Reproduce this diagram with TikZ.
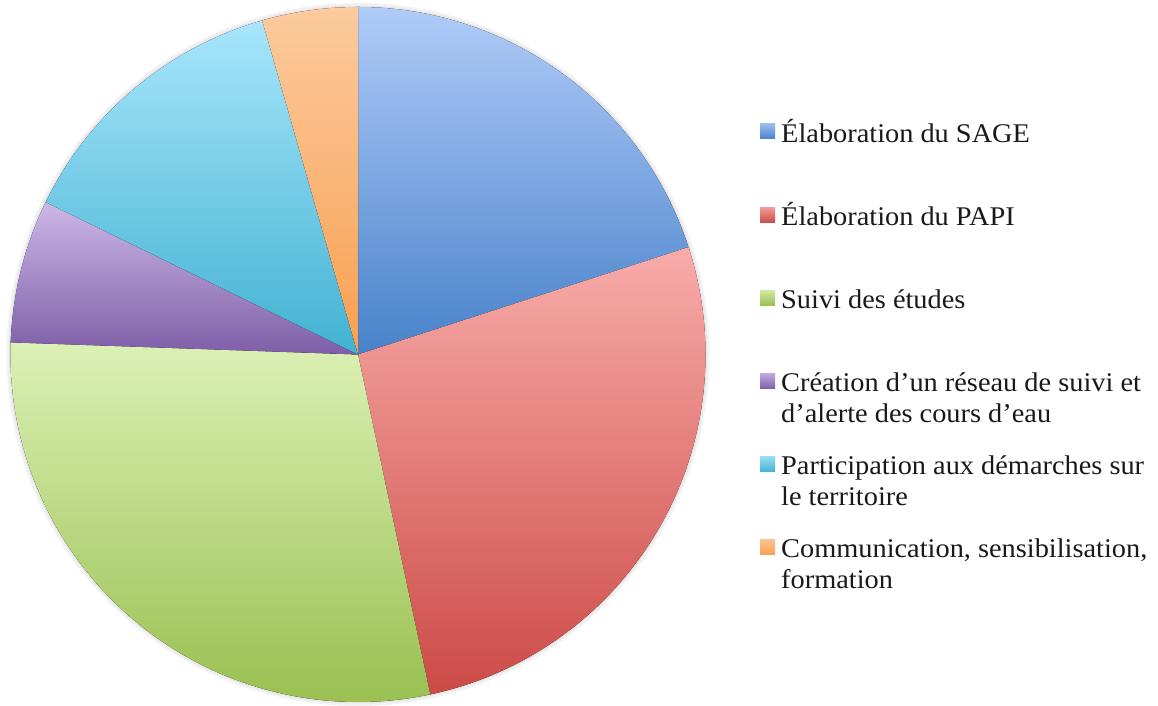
\documentclass[tikz,border=0pt]{standalone}
\usepackage{fontspec}
\setmainfont[FakeStretch=1.05]{Liberation Serif}
\begin{document}
\begin{tikzpicture}[x=1pt,y=1pt,
  legtext/.style={anchor=base west,inner sep=0pt,font=\fontsize{27}{31}\selectfont,text=black!90},
  legbox/.style={minimum size=15pt,inner sep=0pt,anchor=center}]
\useasboundingbox (0,0) rectangle (1158,706);
\definecolor{blueT}{RGB}{176,203,248}\definecolor{blueB}{RGB}{72,130,202}
\definecolor{redT}{RGB}{248,172,170}\definecolor{redB}{RGB}{204,74,70}
\definecolor{greenT}{RGB}{220,241,182}\definecolor{greenB}{RGB}{150,190,76}
\definecolor{purpT}{RGB}{205,185,232}\definecolor{purpB}{RGB}{126,94,168}
\definecolor{cyanT}{RGB}{168,230,252}\definecolor{cyanB}{RGB}{66,178,210}
\definecolor{orT}{RGB}{252,202,158}\definecolor{orB}{RGB}{248,160,80}
\coordinate (c) at (358,351.5);
\def\R{347.5}
% faint shadow
\fill[black!5] (c) circle[radius=\R+4];
\fill[black!10] (c) circle[radius=\R+1.5];
% slices (each overlaps the next a little to hide seams)
\fill[top color=blueT,bottom color=blueB] (c) -- ++(90:\R) arc[start angle=90,end angle=17.5,radius=\R] -- cycle;
\fill[top color=redT,bottom color=redB] (c) -- ++(18:\R) arc[start angle=18,end angle=-78.5,radius=\R] -- cycle;
\fill[top color=greenT,bottom color=greenB] (c) -- ++(-78:\R) arc[start angle=-78,end angle=-182.5,radius=\R] -- cycle;
\fill[top color=purpT,bottom color=purpB] (c) -- ++(178:\R) arc[start angle=178,end angle=153.5,radius=\R] -- cycle;
\fill[top color=cyanT,bottom color=cyanB] (c) -- ++(154:\R) arc[start angle=154,end angle=105.5,radius=\R] -- cycle;
\fill[top color=orT,bottom color=orB] (c) -- ++(106:\R) arc[start angle=106,end angle=90,radius=\R] -- cycle;
% legend
\node[legbox,top color=blueT!80!blueB,bottom color=blueB] (k1) at (767.5,574.5) {};
\node[legtext] (t1) at (781,563) {Élaboration du SAGE};
\node[legbox,top color=redT!80!redB,bottom color=redB] (k2) at (767.5,490.5) {};
\node[legtext] (t2) at (781,480) {Élaboration du PAPI};
\node[legbox,top color=greenT!80!greenB,bottom color=greenB] (k3) at (767.5,407.5) {};
\node[legtext] (t3) at (781,397) {Suivi des études};
\node[legbox,top color=purpT!80!purpB,bottom color=purpB] (k4) at (767.5,324.5) {};
\node[legtext] (t4a) at (781,314) {Création d’un réseau de suivi et};
\node[legtext] (t4b) at (781,283) {d’alerte des cours d’eau};
\node[legbox,top color=cyanT!80!cyanB,bottom color=cyanB] (k5) at (767.5,241.5) {};
\node[legtext] (t5a) at (781,231) {Participation aux démarches sur};
\node[legtext] (t5b) at (781,200) {le territoire};
\node[legbox,top color=orT!80!orB,bottom color=orB] (k6) at (767.5,158.5) {};
\node[legtext] (t6a) at (781,148) {Communication, sensibilisation,};
\node[legtext] (t6b) at (781,117) {formation};
\end{tikzpicture}
\end{document}
